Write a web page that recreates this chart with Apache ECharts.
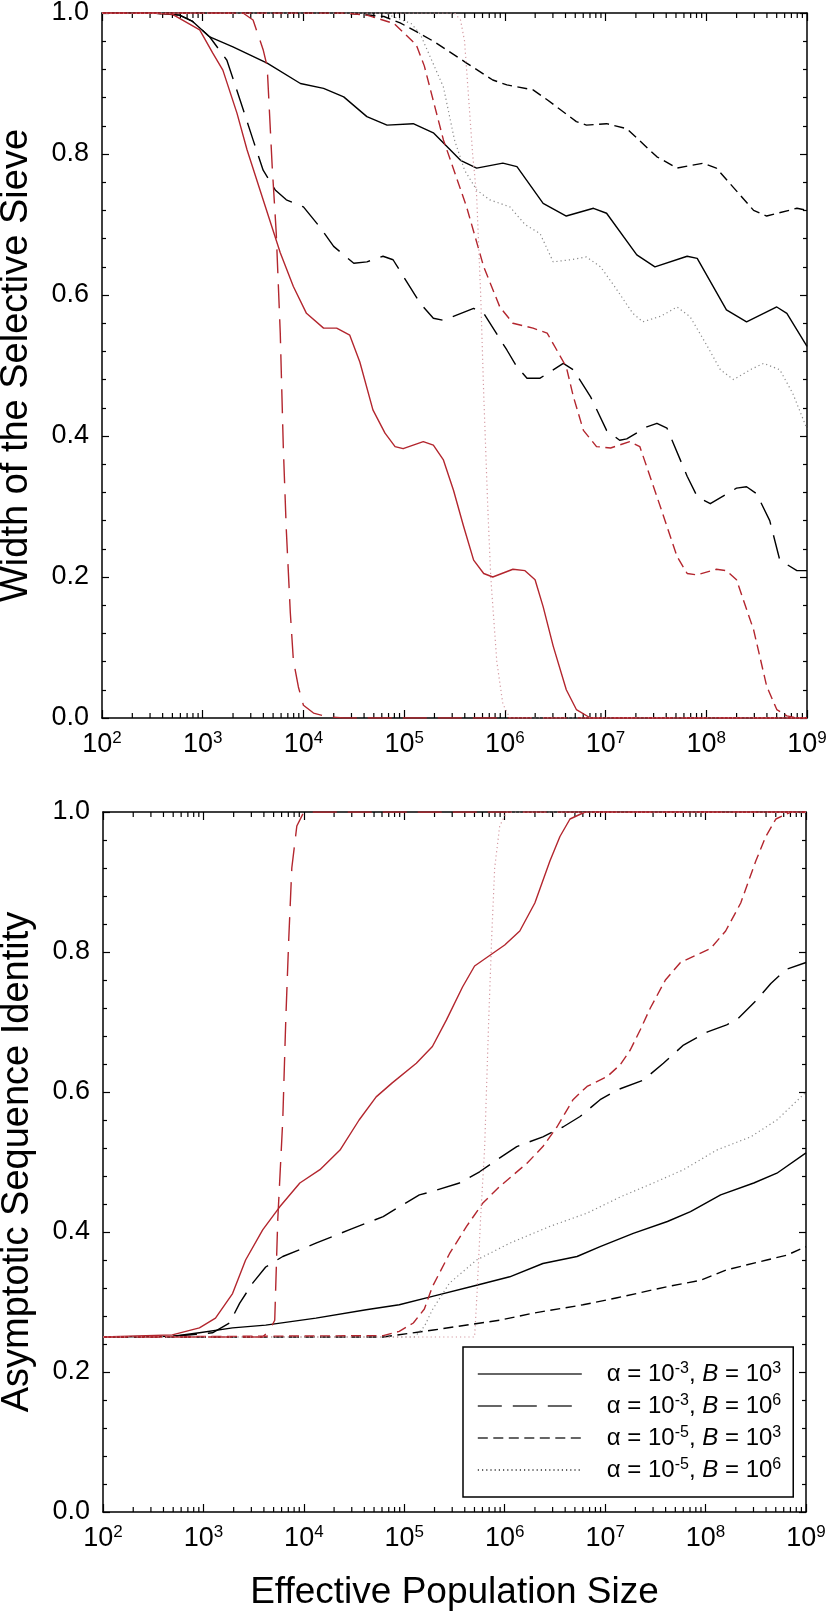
<!DOCTYPE html>
<html>
<head>
<meta charset="utf-8">
<script src="https://cdn.jsdelivr.net/npm/echarts@6/dist/echarts.min.js"></script>
<style>
  html, body { margin: 0; padding: 0; background: #fff; }
  #chart { width: 829px; height: 1613px; }
</style>
</head>
<body>
<div id="chart"></div>
<script>
// x values are log10(effective population size)
const decades = [2, 3, 4, 5, 6, 7, 8, 9];
const yTicks = [0, 0.2, 0.4, 0.6, 0.8, 1.0];

const legendNames = ['a3B3', 'a3B6', 'a5B3', 'a5B6'];
const legendAlpha = ['-3', '-3', '-5', '-5'];
const legendB = ['3', '6', '3', '6'];

// ---- top panel: width of the selective sieve ----
const sieveBlackSolid = [[2,1],[2.5,1],[2.77,0.997],[2.9,0.988],[3.07,0.966],[3.3,0.952],[3.64,0.929],[3.97,0.9],[4.2,0.893],[4.4,0.881],[4.63,0.853],[4.83,0.841],[5.09,0.843],[5.29,0.83],[5.56,0.791],[5.72,0.78],[5.98,0.787],[6.12,0.782],[6.38,0.73],[6.61,0.712],[6.88,0.723],[7.01,0.716],[7.31,0.657],[7.49,0.64],[7.81,0.655],[7.91,0.652],[8.2,0.579],[8.4,0.562],[8.7,0.583],[8.8,0.574],[9,0.527]];
const sieveBlackLong = [[2,1],[2.5,1],[2.77,0.997],[2.9,0.988],[3.07,0.966],[3.24,0.933],[3.37,0.877],[3.5,0.82],[3.6,0.777],[3.72,0.749],[3.83,0.735],[4.0,0.725],[4.16,0.697],[4.3,0.669],[4.5,0.645],[4.63,0.647],[4.79,0.655],[4.89,0.65],[5.02,0.62],[5.16,0.588],[5.29,0.567],[5.39,0.564],[5.69,0.581],[5.79,0.574],[6.02,0.522],[6.12,0.498],[6.22,0.482],[6.35,0.482],[6.58,0.503],[6.68,0.494],[6.85,0.456],[7.01,0.408],[7.14,0.394],[7.21,0.396],[7.41,0.413],[7.51,0.418],[7.61,0.411],[7.81,0.343],[7.91,0.314],[8.04,0.304],[8.3,0.326],[8.4,0.328],[8.5,0.318],[8.63,0.28],[8.73,0.224],[8.9,0.209],[9,0.209]];
const sieveBlackShort = [[2,1],[4.3,1],[4.5,0.999],[4.8,0.995],[4.96,0.986],[5.09,0.976],[5.29,0.96],[5.62,0.929],[5.88,0.905],[6.02,0.898],[6.28,0.891],[6.42,0.877],[6.71,0.846],[6.81,0.841],[7.01,0.843],[7.21,0.836],[7.51,0.796],[7.71,0.78],[7.97,0.787],[8.1,0.78],[8.47,0.72],[8.6,0.712],[8.9,0.723],[9,0.72]];
const sieveGreyDot = [[2,1],[4.8,1],[5.07,0.985],[5.16,0.97],[5.39,0.895],[5.5,0.82],[5.6,0.777],[5.72,0.749],[5.85,0.735],[6.05,0.725],[6.2,0.7],[6.35,0.687],[6.48,0.647],[6.65,0.65],[6.81,0.654],[6.95,0.64],[7.1,0.61],[7.27,0.574],[7.37,0.562],[7.55,0.57],[7.71,0.583],[7.84,0.569],[8.0,0.53],[8.14,0.494],[8.27,0.48],[8.45,0.495],[8.57,0.503],[8.73,0.494],[8.86,0.46],[9,0.41]];
const sieveRedSolid = [[2,1],[2.5,1],[2.7,0.998],[2.97,0.976],[3.1,0.943],[3.2,0.919],[3.34,0.858],[3.44,0.806],[3.6,0.735],[3.77,0.66],[3.9,0.612],[4.03,0.574],[4.2,0.553],[4.33,0.553],[4.46,0.543],[4.56,0.505],[4.69,0.437],[4.81,0.404],[4.91,0.385],[4.99,0.382],[5.19,0.392],[5.29,0.387],[5.39,0.366],[5.49,0.323],[5.59,0.272],[5.69,0.224],[5.79,0.205],[5.88,0.2],[6.08,0.211],[6.2,0.209],[6.3,0.196],[6.38,0.158],[6.48,0.102],[6.61,0.04],[6.71,0.012],[6.85,0],[9,0]];
const sieveRedLong = [[2,1],[3.4,1],[3.5,0.99],[3.6,0.948],[3.64,0.924],[3.69,0.782],[3.73,0.688],[3.77,0.546],[3.8,0.385],[3.83,0.267],[3.87,0.149],[3.9,0.082],[3.95,0.044],[4.0,0.018],[4.1,0.007],[4.23,0.002],[4.4,0],[9,0]];
const sieveRedShort = [[2,1],[4.4,1],[4.63,0.997],[4.9,0.985],[5.12,0.955],[5.2,0.925],[5.39,0.82],[5.62,0.725],[5.79,0.64],[5.95,0.583],[6.08,0.56],[6.28,0.553],[6.42,0.546],[6.61,0.498],[6.68,0.456],[6.78,0.408],[6.91,0.385],[7.05,0.383],[7.24,0.392],[7.34,0.385],[7.51,0.314],[7.71,0.229],[7.81,0.205],[7.91,0.203],[8.1,0.211],[8.2,0.209],[8.3,0.196],[8.47,0.125],[8.6,0.045],[8.7,0.012],[8.8,0.003],[8.9,0],[9,0]];
const sieveRedDot = [[2,1],[5.5,1],[5.56,0.99],[5.6,0.96],[5.63,0.9],[5.68,0.8],[5.72,0.74],[5.76,0.6],[5.79,0.46],[5.83,0.3],[5.86,0.2],[5.92,0.08],[5.98,0.02],[6.05,0],[9,0]];

// ---- bottom panel: asymptotic sequence identity ----
const idBlackSolid = [[2,0.25],[2.7,0.251],[2.96,0.256],[3.29,0.263],[3.62,0.267],[4.12,0.277],[4.62,0.289],[4.95,0.296],[5.28,0.308],[5.72,0.324],[6.05,0.336],[6.38,0.355],[6.72,0.365],[6.95,0.379],[7.28,0.398],[7.62,0.415],[7.85,0.429],[8.15,0.453],[8.48,0.47],[8.71,0.484],[9,0.513]];
const idBlackLong = [[2,0.25],[2.7,0.251],[3.09,0.256],[3.26,0.27],[3.36,0.298],[3.49,0.327],[3.62,0.35],[3.79,0.365],[4.12,0.384],[4.45,0.403],[4.79,0.422],[4.95,0.436],[5.15,0.453],[5.28,0.458],[5.55,0.47],[5.75,0.486],[5.92,0.503],[6.12,0.522],[6.38,0.536],[6.58,0.55],[6.75,0.565],[6.95,0.589],[7.12,0.603],[7.38,0.617],[7.58,0.641],[7.78,0.667],[8.02,0.686],[8.21,0.696],[8.31,0.703],[8.5,0.73],[8.65,0.755],[8.8,0.775],[9,0.785]];
const idBlackShort = [[2,0.25],[4.79,0.25],[5.29,0.26],[5.95,0.274],[6.28,0.284],[6.78,0.296],[7.12,0.306],[7.62,0.322],[7.95,0.331],[8.21,0.346],[8.61,0.36],[8.81,0.367],[9,0.379]];
const idGreyDot = [[2,0.25],[5.1,0.25],[5.2,0.265],[5.28,0.289],[5.45,0.327],[5.72,0.36],[6.05,0.384],[6.45,0.408],[6.82,0.427],[7.15,0.45],[7.48,0.47],[7.78,0.489],[8.11,0.517],[8.45,0.536],[8.71,0.56],[8.95,0.593],[9,0.6]];
const idRedSolid = [[2,0.25],[2.69,0.253],[2.96,0.263],[3.12,0.277],[3.29,0.312],[3.42,0.36],[3.59,0.403],[3.76,0.436],[3.96,0.47],[4.16,0.489],[4.36,0.517],[4.55,0.56],[4.72,0.593],[4.88,0.613],[5.12,0.641],[5.28,0.665],[5.42,0.703],[5.58,0.75],[5.7,0.78],[5.85,0.795],[6.0,0.81],[6.15,0.83],[6.3,0.87],[6.45,0.93],[6.55,0.965],[6.65,0.99],[6.8,1],[9,1]];
const idRedLong = [[2,0.25],[3.59,0.25],[3.66,0.26],[3.71,0.274],[3.74,0.417],[3.79,0.56],[3.82,0.703],[3.85,0.82],[3.88,0.92],[3.93,0.98],[4.0,1],[9,1]];
const idRedShort = [[2,0.25],[4.79,0.252],[4.95,0.258],[5.09,0.27],[5.2,0.29],[5.28,0.322],[5.45,0.369],[5.62,0.408],[5.78,0.441],[5.95,0.465],[6.22,0.498],[6.38,0.522],[6.52,0.55],[6.68,0.589],[6.82,0.608],[7.02,0.622],[7.15,0.639],[7.25,0.66],[7.35,0.689],[7.45,0.72],[7.6,0.76],[7.75,0.785],[7.9,0.795],[8.05,0.805],[8.2,0.83],[8.35,0.87],[8.5,0.93],[8.6,0.965],[8.7,0.99],[8.85,1],[9,1]];
const idRedDot = [[2,0.25],[5.7,0.25],[5.72,0.3],[5.76,0.42],[5.8,0.52],[5.84,0.7],[5.87,0.82],[5.9,0.92],[5.95,0.98],[6.02,1],[9,1]];

// minor log ticks (2..9 within each decade)
const minorTicks = [];
for (let d = 2; d < 9; d++) {
  for (let k = 2; k <= 9; k++) minorTicks.push([d + Math.log10(k), 0]);
}

const FONT = 'Liberation Sans, Arial, sans-serif';
const BLACK = '#000';
const RED = '#b3262e';
const GREY = '#8a8a8a';
const PINK = '#d49aa2';
const LONG = [24, 11];
const SHORT = [10, 5.5];
const DOT = [1.2, 3];

const chart = echarts.init(document.getElementById('chart'));

function line(name, data, g, color, dash, width) {
  return {
    name: name,
    type: 'line',
    xAxisIndex: g * 2,
    yAxisIndex: g * 2,
    data: data,
    symbol: 'none',
    clip: true,
    silent: true,
    lineStyle: { color: color, width: width || 1.4, type: dash || 'solid', join: 'round' },
    itemStyle: { color: color }
  };
}

function minorTickSeries(g) {
  return {
    type: 'custom',
    xAxisIndex: g * 2,
    yAxisIndex: g * 2,
    silent: true,
    clip: false,
    data: minorTicks,
    encode: { x: 0, y: 1 },
    renderItem: function (params, api) {
      const b = api.coord([api.value(0), 0]);
      const t = api.coord([api.value(0), 1]);
      const st = { stroke: '#000', lineWidth: 1.2 };
      return {
        type: 'group',
        children: [
          { type: 'line', shape: { x1: b[0], y1: b[1], x2: b[0], y2: b[1] - 5 }, style: st },
          { type: 'line', shape: { x1: t[0], y1: t[1], x2: t[0], y2: t[1] + 5 }, style: st }
        ]
      };
    }
  };
}

function xAxes(g, title) {
  const common = {
    gridIndex: g,
    type: 'value',
    min: 2,
    max: 9,
    interval: 1,
    splitLine: { show: false },
    axisLine: { show: true, onZero: false, lineStyle: { color: '#000', width: 1.5 } },
    axisTick: { show: true, inside: true, length: 8, lineStyle: { color: '#000', width: 1.2 } }
  };
  return [
    Object.assign({}, common, {
      position: 'bottom',
      axisLabel: {
        margin: 12,
        color: '#000',
        formatter: function (v) { return '{b|10}{s|' + v + '}'; },
        rich: {
          b: { fontSize: 27, fontFamily: FONT, color: '#000', lineHeight: 30 },
          s: { fontSize: 17, fontFamily: FONT, color: '#000', verticalAlign: 'top', lineHeight: 18 }
        }
      },
      name: title,
      nameLocation: 'middle',
      nameGap: 62,
      nameTextStyle: { fontSize: 37, fontFamily: FONT, color: '#000' }
    }),
    Object.assign({}, common, { position: 'top', axisLabel: { show: false } })
  ];
}

function yAxes(g, title) {
  const common = {
    gridIndex: g,
    type: 'value',
    min: 0,
    max: 1,
    interval: 0.2,
    splitLine: { show: false },
    axisLine: { show: true, onZero: false, lineStyle: { color: '#000', width: 1.5 } },
    axisTick: { show: true, inside: true, length: 7, lineStyle: { color: '#000', width: 1.2 } },
    minorTick: { show: true, splitNumber: 5, length: 4, lineStyle: { color: '#000', width: 1.2 } }
  };
  return [
    Object.assign({}, common, {
      position: 'left',
      axisLabel: {
        margin: 13,
        color: '#000',
        fontSize: 27,
        fontFamily: FONT,
        formatter: function (v) { return v.toFixed(1); }
      },
      name: title,
      nameLocation: 'middle',
      nameGap: 66,
      nameTextStyle: { fontSize: 38, fontFamily: FONT, color: '#000' }
    }),
    Object.assign({}, common, { position: 'right', axisLabel: { show: false } })
  ];
}

const option = {
  animation: false,
  backgroundColor: '#fff',
  textStyle: { fontFamily: FONT },
  grid: [
    { left: 102, top: 13, width: 705, height: 705, outerBoundsMode: 'none' },
    { left: 103, top: 812, width: 703, height: 700, outerBoundsMode: 'none' }
  ],
  xAxis: xAxes(0, '').concat(xAxes(1, 'Effective Population Size')),
  yAxis: yAxes(0, 'Width of the Selective Sieve').concat(yAxes(1, 'Asymptotic Sequence Identity')),
  legend: {
    data: legendNames,
    orient: 'vertical',
    left: 463,
    top: 1347,
    itemWidth: 104,
    itemHeight: 26,
    itemGap: 6,
    padding: [14, 12, 14, 14],
    backgroundColor: '#fff',
    borderColor: '#000',
    borderWidth: 1.5,
    selectedMode: false,
    itemStyle: { opacity: 0 },
    lineStyle: { color: '#333', width: 1.6 },
    formatter: function (name) {
      const i = legendNames.indexOf(name);
      return '{g|}{t|\u03b1 = 10}{s|' + legendAlpha[i] + '}{t|, }{i|B}{t| = 10}{s|' + legendB[i] + '}';
    },
    textStyle: {
      color: '#000',
      fontFamily: FONT,
      fontSize: 24,
      lineHeight: 26,
      rich: {
        g: { width: 20 },
        t: { fontSize: 24, fontFamily: FONT, color: '#000', lineHeight: 26 },
        i: { fontSize: 24, fontFamily: FONT, color: '#000', fontStyle: 'italic', lineHeight: 26 },
        s: { fontSize: 16, fontFamily: FONT, color: '#000', verticalAlign: 'top', lineHeight: 16 }
      }
    }
  },
  series: [
    minorTickSeries(0),
    minorTickSeries(1),
    line('a3B3', sieveBlackSolid, 0, BLACK),
    line('a3B6', sieveBlackLong, 0, BLACK, LONG),
    line('a5B3', sieveBlackShort, 0, BLACK, SHORT),
    line('a5B6', sieveGreyDot, 0, GREY, DOT, 1.2),
    line('r-a3B3', sieveRedSolid, 0, RED),
    line('r-a3B6', sieveRedLong, 0, RED, LONG),
    line('r-a5B3', sieveRedShort, 0, RED, SHORT),
    line('r-a5B6', sieveRedDot, 0, PINK, DOT, 1.2),
    line('a3B3', idBlackSolid, 1, BLACK),
    line('a3B6', idBlackLong, 1, BLACK, LONG),
    line('a5B3', idBlackShort, 1, BLACK, SHORT),
    line('a5B6', idGreyDot, 1, GREY, DOT, 1.2),
    line('r-a3B3', idRedSolid, 1, RED),
    line('r-a3B6', idRedLong, 1, RED, LONG),
    line('r-a5B3', idRedShort, 1, RED, SHORT),
    line('r-a5B6', idRedDot, 1, PINK, DOT, 1.2)
  ]
};

chart.setOption(option);
</script>
</body>
</html>
